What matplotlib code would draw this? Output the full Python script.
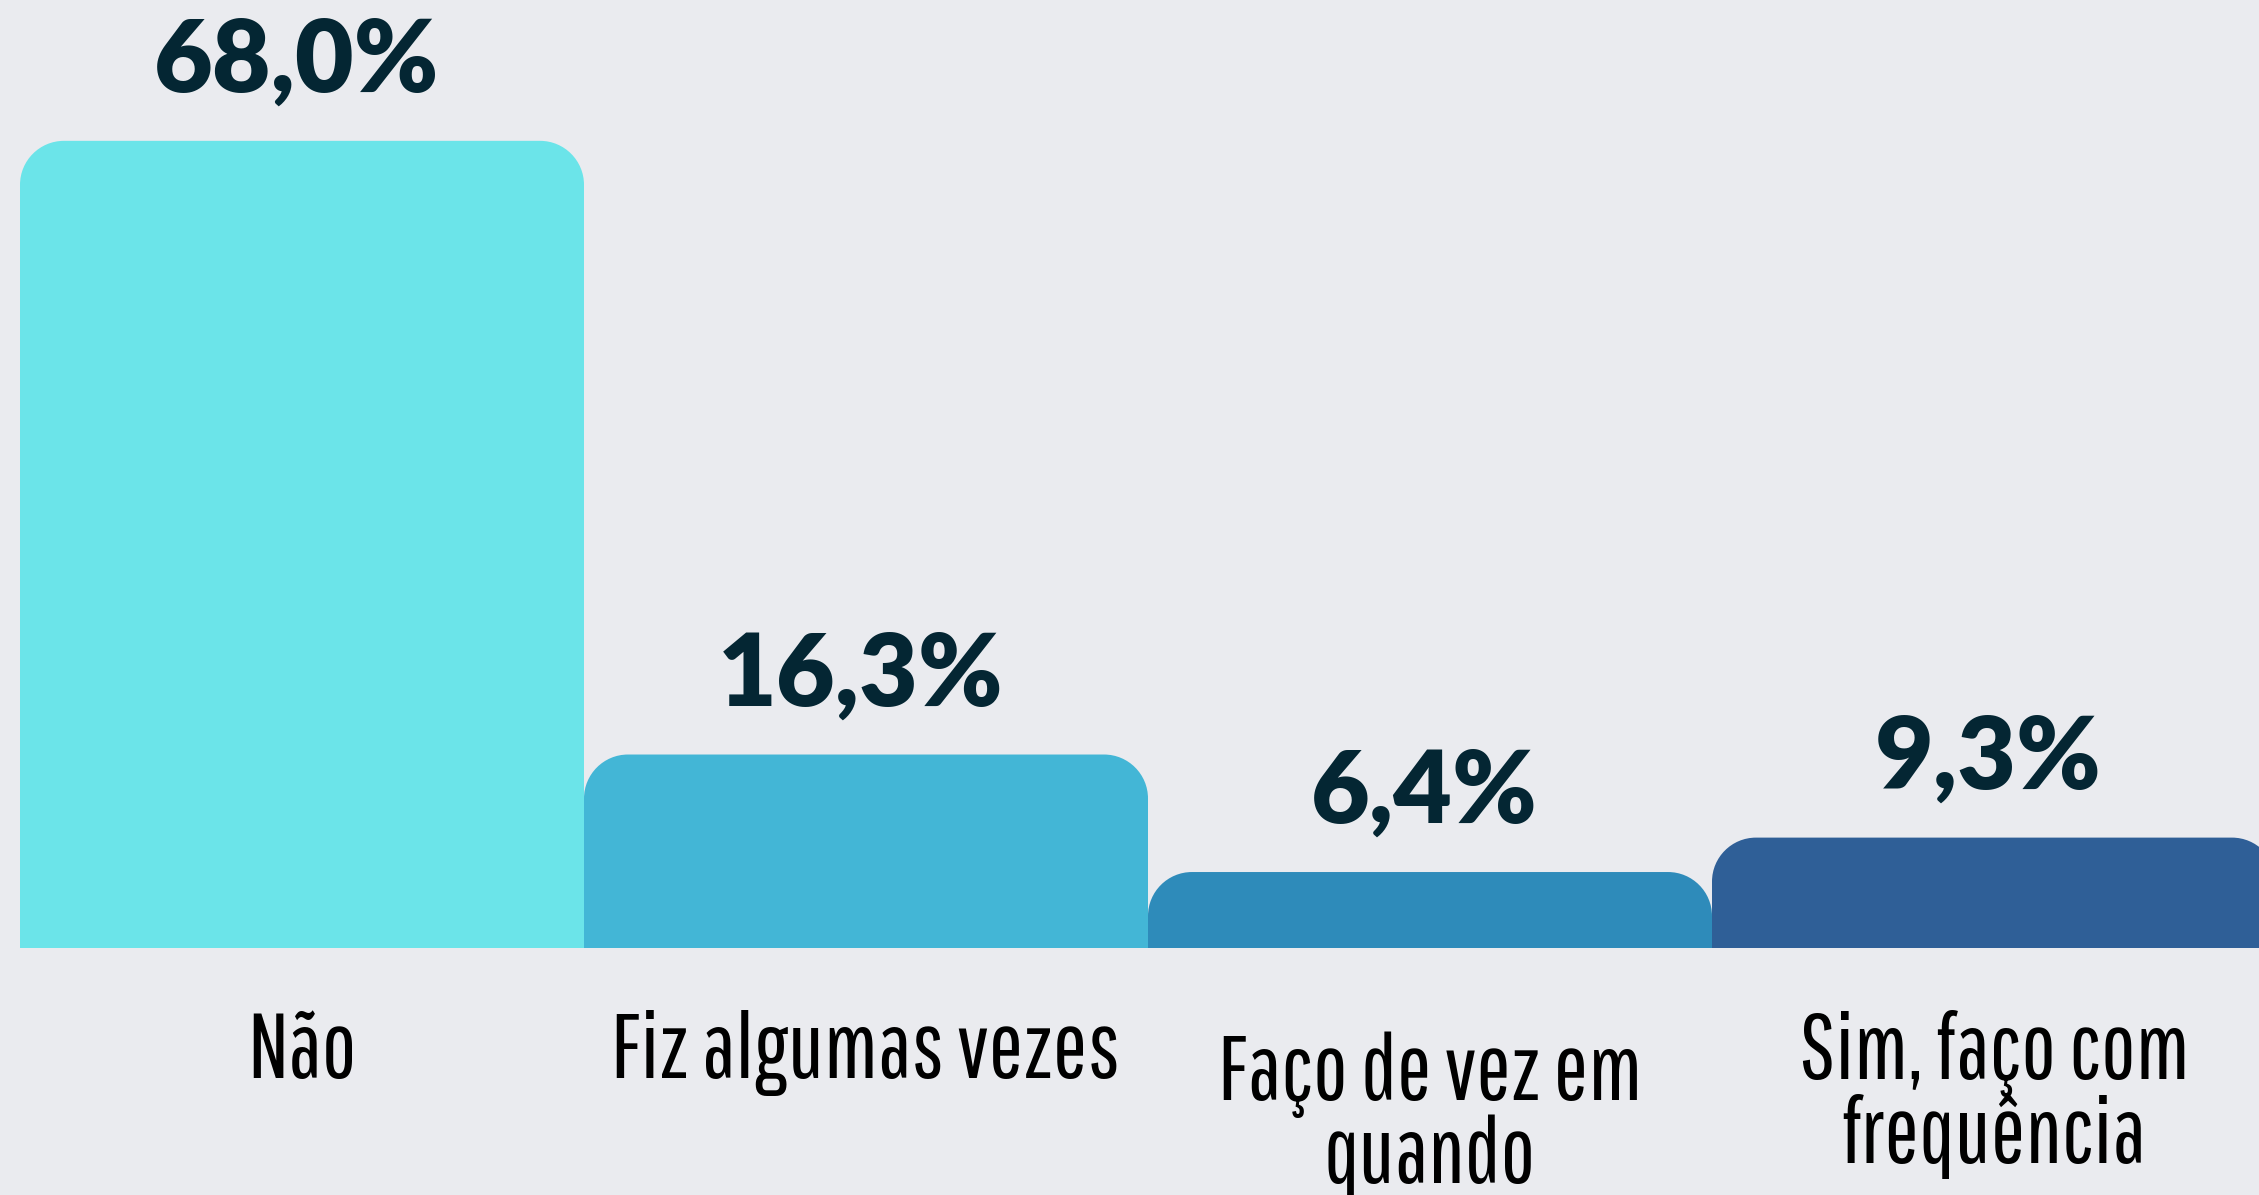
import matplotlib
matplotlib.use("Agg")
import matplotlib.pyplot as plt
import numpy as np
from matplotlib.path import Path
from matplotlib.patches import PathPatch

# data
categories = ["Não", "Fiz algumas vezes", "Faço de vez em\nquando", "Sim, faço com\nfrequência"]
values = [68.0, 16.3, 6.4, 9.3]
bar_colors = ["#6BE4E9", "#43B6D6", "#2E8BBA", "#2F5F97"]

BG = "#EAEBEF"
TEXT_DARK = "#042633"

W, H, DPI = 2259, 1195, 100
BASE_PX = 948          # baseline of bars, px from top
PX_PER_UNIT = 11.87    # px per percentage point
BAR_PX = 564           # bar width in px
FIRST_CENTER_PX = 302
RADIUS_PX = 44


def rounded_top_bar(x0, x1, h, rx, ry):
    k = 0.5523
    verts = [
        (x0, 0), (x0, h - ry),
        (x0, h - ry + k * ry), (x0 + rx - k * rx, h), (x0 + rx, h),
        (x1 - rx, h),
        (x1 - rx + k * rx, h), (x1, h - ry + k * ry), (x1, h - ry),
        (x1, 0), (x0, 0),
    ]
    codes = [Path.MOVETO, Path.LINETO,
             Path.CURVE4, Path.CURVE4, Path.CURVE4,
             Path.LINETO,
             Path.CURVE4, Path.CURVE4, Path.CURVE4,
             Path.LINETO, Path.CLOSEPOLY]
    return Path(verts, codes)


fig = plt.figure(figsize=(W / DPI, H / DPI), dpi=DPI, facecolor=BG)
# axes spans full width; bottom of axes is the bar baseline
ax = fig.add_axes([0, (H - BASE_PX) / H, 1, BASE_PX / H])
ax.set_facecolor(BG)
ax.set_xlim(-FIRST_CENTER_PX / BAR_PX, (W - FIRST_CENTER_PX) / BAR_PX)
ax.set_ylim(0, BASE_PX / PX_PER_UNIT)
ax.axis("off")

rx = RADIUS_PX / BAR_PX
ry = RADIUS_PX / PX_PER_UNIT
x = np.arange(len(values))
for xi, v, c in zip(x, values, bar_colors):
    p = rounded_top_bar(xi - 0.5, xi + 0.5, v, rx, ry)
    ax.add_patch(PathPatch(p, facecolor=c, edgecolor="none", clip_on=False))
    ax.text(xi - 0.01, v + 49 / PX_PER_UNIT, f"{v:.1f}%".replace(".", ","),
            ha="center", va="baseline", fontsize=73, fontweight="heavy",
            family="Lato", color=TEXT_DARK)

# category labels; baseline of the last line, px from top of figure
label_baseline = [1078, 1078, 1183, 1163]
for xi, lab, yb in zip(x, categories, label_baseline):
    xf = (FIRST_CENTER_PX + xi * BAR_PX) / W
    fig.text(xf, 1 - yb / H, lab, ha="center", va="baseline",
             fontsize=66, family="Pathway Gothic One",
             color="black", linespacing=0.95)

fig.savefig("out.png", dpi=DPI, facecolor=BG)
